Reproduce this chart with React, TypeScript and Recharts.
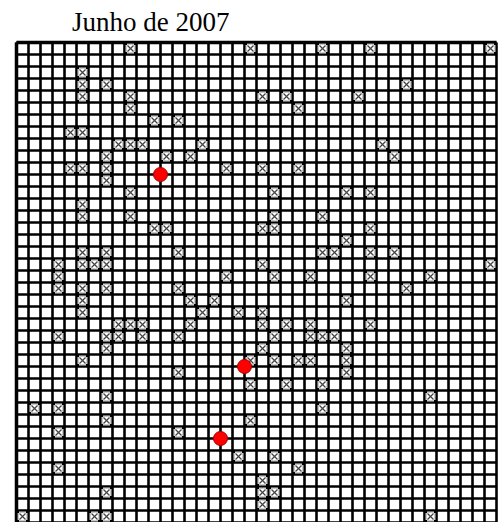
import { ScatterChart, Scatter, XAxis, YAxis, CartesianGrid, ReferenceLine } from "recharts";

const title = "Junho de 2007";
const gridSize = 40;

// marked cells, by row: [row, columns]
const crossed: [number, number[]][] = [
    [0, [9, 19, 25, 29, 39]],
    [2, [5]],
    [3, [5, 7, 32]],
    [4, [5, 9, 20, 22, 28]],
    [5, [9, 23]],
    [6, [11, 13]],
    [7, [4, 5]],
    [8, [8, 9, 10, 15, 30]],
    [9, [7, 12, 14, 31]],
    [10, [4, 5, 7, 17, 20, 23]],
    [11, [7]],
    [12, [9, 21, 27, 29]],
    [13, [5]],
    [14, [5, 9, 21, 25]],
    [15, [11, 12, 20, 21, 29]],
    [16, [27]],
    [17, [5, 7, 13, 25, 26, 29, 31]],
    [18, [3, 5, 6, 7, 20, 39]],
    [19, [3, 17, 21, 24, 29, 34]],
    [20, [3, 5, 7, 13, 32]],
    [21, [5, 14, 16, 27]],
    [22, [5, 15, 18, 20]],
    [23, [8, 9, 10, 14, 20, 22, 24, 29]],
    [24, [3, 7, 8, 10, 13, 21, 24, 25, 26]],
    [25, [7, 20, 27]],
    [26, [5, 19, 21, 23, 24, 27]],
    [27, [13, 27]],
    [28, [19, 22, 25]],
    [29, [7, 34]],
    [30, [1, 3, 25]],
    [31, [7, 19]],
    [32, [3, 13]],
    [34, [18, 21]],
    [35, [3, 23]],
    [36, [20]],
    [37, [7, 20, 21]],
    [38, [20]],
    [39, [0, 6, 7, 34]],
];

// red points sit on grid intersections
const dotCols = [12, 19, 17];
const dotRows = [11, 27, 33];

const ticks = Array.from({ length: gridSize + 1 }, (_, i) => i);

const crossData = crossed.flatMap(([row, cols]) => cols.map((c) => ({ x: c + 0.5, y: row + 0.5 })));
const dotData = dotCols.map((c, i) => ({ x: c, y: dotRows[i] }));

const vLines = ({ xAxis, offset }: any) =>
    ticks.map((t) => (xAxis && typeof xAxis.scale === "function" ? xAxis.scale(t) : offset.left + (offset.width * t) / gridSize));
const hLines = ({ yAxis, offset }: any) =>
    ticks.map((t) => (yAxis && typeof yAxis.scale === "function" ? yAxis.scale(t) : offset.top + (offset.height * t) / gridSize));

const CrossMark = (props: any) => {
    const { cx, cy } = props;
    if (cx == null || cy == null) return null;
    const h = 4.5;
    return (
        <g>
            <rect x={cx - h} y={cy - h} width={h * 2} height={h * 2} fill="#fff" stroke="#999" strokeWidth={1} />
            <line x1={cx - 3} y1={cy - 3} x2={cx + 3} y2={cy + 3} stroke="#444" strokeWidth={1.2} />
            <line x1={cx - 3} y1={cy + 3} x2={cx + 3} y2={cy - 3} stroke="#444" strokeWidth={1.2} />
            <rect x={cx - h - 1} y={cy - h - 1} width={2} height={2} fill="#000" />
            <rect x={cx + h - 1} y={cy - h - 1} width={2} height={2} fill="#000" />
            <rect x={cx - h - 1} y={cy + h - 1} width={2} height={2} fill="#000" />
            <rect x={cx + h - 1} y={cy + h - 1} width={2} height={2} fill="#000" />
        </g>
    );
};

const RedDot = (props: any) => {
    const { cx, cy } = props;
    if (cx == null || cy == null) return null;
    return <circle cx={cx} cy={cy} r={7} fill="#f00" stroke="#a00" strokeWidth={1} />;
};

export default function App() {
    return (
        <div style={{ position: "absolute", left: 0, top: 0, width: 499, height: 522, overflow: "hidden", background: "#fff" }}>
            <svg width={499} height={40} style={{ position: "absolute", left: 0, top: 0 }}>
                <text x={72} y={30.5} fontFamily="'Liberation Serif', 'Times New Roman', serif" fontSize={27} fill="#000">
                    {title}
                </text>
            </svg>
            <ScatterChart width={500} height={523} margin={{ top: 42.5, left: 16.5, right: 3.5, bottom: 0.5 }}>
                <CartesianGrid
                    stroke="#000"
                    strokeWidth={2.6}
                    fill="#fff"
                    verticalCoordinatesGenerator={vLines}
                    horizontalCoordinatesGenerator={hLines}
                />
                <XAxis type="number" dataKey="x" domain={[0, gridSize]} ticks={ticks} interval={0} height={0} tick={false} axisLine={false} tickLine={false} />
                <YAxis type="number" dataKey="y" domain={[0, gridSize]} ticks={ticks} interval={0} width={0} tick={false} axisLine={false} tickLine={false} reversed />
                <ReferenceLine x={0} stroke="#000" strokeWidth={3.5} />
                <ReferenceLine y={0} stroke="#000" strokeWidth={3.5} />
                <Scatter data={crossData} shape={CrossMark} isAnimationActive={false} />
                <Scatter data={dotData} shape={RedDot} isAnimationActive={false} />
            </ScatterChart>
        </div>
    );
}
